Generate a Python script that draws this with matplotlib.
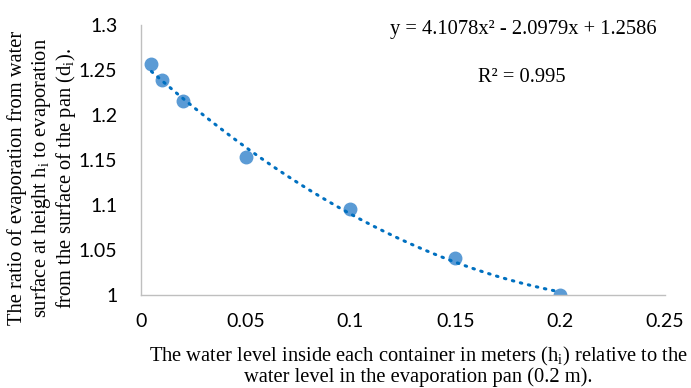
import matplotlib.pyplot as plt
import numpy as np

plt.rcParams['mathtext.fontset'] = 'custom'
plt.rcParams['mathtext.rm'] = 'Liberation Serif'
plt.rcParams['mathtext.it'] = 'Liberation Serif:italic'

# measured points
water_level = [0.005, 0.01, 0.02, 0.05, 0.1, 0.15, 0.2]
ratio = [1.256, 1.239, 1.215, 1.153, 1.095, 1.041, 1.0]

# trendline coefficients as printed on the chart
coef = [4.1078, -2.0979, 1.2586]
r2 = 0.995

x_ticks = [0, 0.05, 0.1, 0.15, 0.2, 0.25]
y_ticks = [1, 1.05, 1.1, 1.15, 1.2, 1.25, 1.3]

fig = plt.figure(figsize=(6.91, 3.88), dpi=100)
ax = fig.add_axes([0.204, 0.24, 0.758, 0.696])

xs = np.linspace(min(water_level), max(water_level), 200)
ax.plot(xs, np.polyval(coef, xs), color='#0070C0', lw=2.2, ls=(0, (0.5, 2.2)),
        dash_capstyle='round', zorder=3)
ax.plot(water_level, ratio, 'o', color='#5B9BD5', ms=9, mec='#5B9BD5', zorder=2)

ax.set_xlim(0, 0.25)
ax.set_ylim(1, 1.3)
ax.set_xticks(x_ticks)
ax.set_xticklabels(['0', '0.05', '0.1', '0.15', '0.2', '0.25'])
ax.set_yticks(y_ticks)
ax.set_yticklabels(['1', '1.05', '1.1', '1.15', '1.2', '1.25', '1.3'])
ax.tick_params(axis='y', length=0, labelsize=14, pad=17)
ax.tick_params(axis='x', length=0, labelsize=14, pad=13)
for lab in ax.get_xticklabels() + ax.get_yticklabels():
    lab.set_family('Lato')
    lab.set_color('black')

for s in ['top', 'right']:
    ax.spines[s].set_visible(False)
for s in ['left', 'bottom']:
    ax.spines[s].set_color('#BFBFBF')
    ax.spines[s].set_linewidth(1)

fig.text(0.757, 0.925, 'y = %.4fx² - %.4fx + %.4f' % (coef[0], -coef[1], coef[2]),
         ha='center', va='center', fontsize=14.8, family='Liberation Serif')
fig.text(0.755, 0.80, 'R² = %.3f' % r2, ha='center', va='center',
         fontsize=14.8, family='Liberation Serif')

fig.text(0.062, 0.541,
         'The ratio of evaporation from water\n'
         'surface at height h$_\\mathrm{i}$ to evaporation\n'
         'from the surface of the pan (d$_\\mathrm{i}$).',
         rotation=90, ha='center', va='center', fontsize=14.8,
         family='Liberation Serif', linespacing=1.1)
fig.text(0.606, 0.057,
         'The water level inside each container in meters (h$_\\mathrm{i}$) relative to the\n'
         'water level in the evaporation pan (0.2 m).',
         ha='center', va='center', fontsize=14.8, family='Liberation Serif',
         linespacing=1.0)

fig.savefig('out.png', dpi=100)
